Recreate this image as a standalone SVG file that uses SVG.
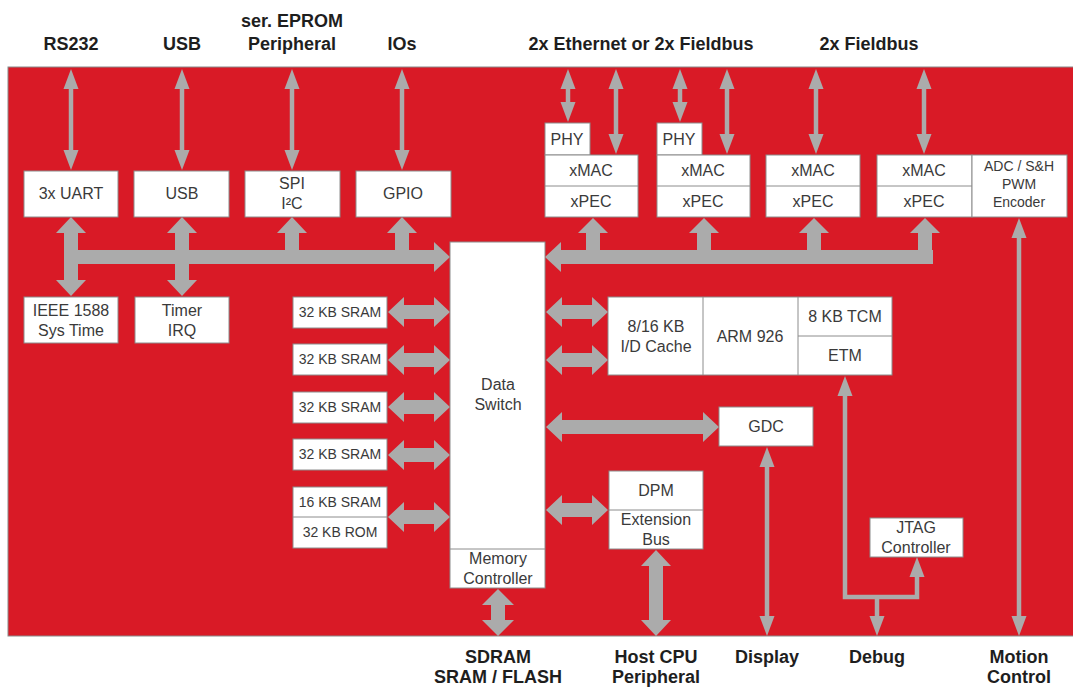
<svg xmlns="http://www.w3.org/2000/svg" width="1073" height="688" viewBox="0 0 1073 688">
<defs>
<style>
.bg{fill:#d91a26;stroke:#8a8a8a;stroke-width:1}
.box{fill:#fff;stroke:#8c8c8c;stroke-width:1}
.t{font-family:"Liberation Sans",Arial,sans-serif;font-size:16px;fill:#3a3a3a;text-anchor:middle}
.xs{font-size:14px}
.lab{font-family:"Liberation Sans",Arial,sans-serif;font-size:18px;font-weight:bold;fill:#1e1e1e;text-anchor:middle}
.thin{stroke:#ababab;stroke-width:4.5;fill:none;marker-start:url(#ah);marker-end:url(#ah)}
.thin1{stroke:#ababab;stroke-width:4.5;fill:none;marker-end:url(#ah)}
.thick{fill:#ababab}
</style>
<marker id="ah" markerUnits="userSpaceOnUse" markerWidth="20" markerHeight="15" viewBox="0 0 20 15" refX="2" refY="7.5" orient="auto-start-reverse" overflow="visible">
<path d="M0,0 L20,7.5 L0,15 z" fill="#ababab"/>
</marker>
</defs>
<rect class="bg" x="8" y="67" width="1075" height="569"/>

<g id="labels">
<text class="lab" x="71" y="50">RS232</text>
<text class="lab" x="182" y="50">USB</text>
<text class="lab" x="292" y="27">ser. EPROM</text>
<text class="lab" x="292" y="50">Peripheral</text>
<text class="lab" x="402" y="50">IOs</text>
<text class="lab" x="641" y="50">2x Ethernet or 2x Fieldbus</text>
<text class="lab" x="869" y="50">2x Fieldbus</text>
<text class="lab" x="498" y="663">SDRAM</text>
<text class="lab" x="498" y="683">SRAM / FLASH</text>
<text class="lab" x="656" y="663">Host CPU</text>
<text class="lab" x="656" y="683">Peripheral</text>
<text class="lab" x="767" y="663">Display</text>
<text class="lab" x="877" y="663">Debug</text>
<text class="lab" x="1019" y="663">Motion</text>
<text class="lab" x="1019" y="683">Control</text>
</g>

<g id="connectors">
<line class="thin" x1="71" y1="87" x2="71" y2="152"/>
<line class="thin" x1="182" y1="87" x2="182" y2="152"/>
<line class="thin" x1="292" y1="87" x2="292" y2="152"/>
<line class="thin" x1="402" y1="87" x2="402" y2="152"/>
<line class="thin" x1="568" y1="87" x2="568" y2="104"/>
<line class="thin" x1="616" y1="87" x2="616" y2="136"/>
<line class="thin" x1="680" y1="87" x2="680" y2="104"/>
<line class="thin" x1="727" y1="87" x2="727" y2="136"/>
<line class="thin" x1="816" y1="87" x2="816" y2="136"/>
<line class="thin" x1="924" y1="87" x2="924" y2="136"/>
<line class="thin" x1="1019" y1="236" x2="1019" y2="618"/>
<line class="thin" x1="767" y1="465" x2="767" y2="618"/>
<polyline class="thin" points="845,394 845,597 917,597 917,575"/>
<polyline class="thin1" points="877,597 877,618"/>

<g class="thick">
<rect x="64" y="250" width="371" height="14"/>
<polygon points="434,242 450,257 434,272"/>
<rect x="64" y="233" width="14" height="47"/>
<polygon points="56,233 71,217 86,233"/>
<polygon points="56,280 71,296 86,280"/>
<rect x="175" y="233" width="14" height="47"/>
<polygon points="167,233 182,217 197,233"/>
<polygon points="167,280 182,296 197,280"/>
<rect x="285" y="233" width="14" height="18"/>
<polygon points="277,233 292,217 307,233"/>
<rect x="395" y="233" width="14" height="18"/>
<polygon points="387,233 402,217 417,233"/>
</g>
<g class="thick">
<rect x="560" y="250" width="373" height="14"/>
<polygon points="561,242 545,257 561,272"/>
<rect x="586" y="233" width="14" height="18"/>
<polygon points="578,233 593,218 608,233"/>
<rect x="697" y="233" width="14" height="18"/>
<polygon points="689,233 704,218 719,233"/>
<rect x="807" y="233" width="14" height="18"/>
<polygon points="799,233 814,218 829,233"/>
<rect x="918" y="233" width="14" height="18"/>
<polygon points="910,233 925,218 940,233"/>
</g>
<g class="thick">
<polygon points="388,312 404,297 404,305 434,305 434,297 450,312 434,327 434,319 404,319 404,327"/>
<polygon points="388,360 404,345 404,353 434,353 434,345 450,360 434,375 434,367 404,367 404,375"/>
<polygon points="388,407 404,392 404,400 434,400 434,392 450,407 434,422 434,414 404,414 404,422"/>
<polygon points="388,455 404,440 404,448 434,448 434,440 450,455 434,470 434,462 404,462 404,470"/>
<polygon points="388,517 404,502 404,510 434,510 434,502 450,517 434,532 434,524 404,524 404,532"/>
<polygon points="546,312 562,297 562,305 592,305 592,297 608,312 592,327 592,319 562,319 562,327"/>
<polygon points="546,360 562,345 562,353 592,353 592,345 608,360 592,375 592,367 562,367 562,375"/>
<polygon points="546,510 562,495 562,503 592,503 592,495 608,510 592,525 592,517 562,517 562,525"/>
<polygon points="546,427 562,412 562,420 703,420 703,412 719,427 703,442 703,434 562,434 562,442"/>
<polygon points="498,589 482,605 491,605 491,620 482,620 498,636 514,620 505,620 505,605 514,605"/>
<polygon points="656,550 641,566 649,566 649,620 641,620 656,636 671,620 663,620 663,566 671,566"/>
</g>
</g>

<g id="uart"><rect class="box" x="24" y="171" width="94" height="46"/><text class="t" x="71" y="199">3x UART</text></g>
<g id="usb"><rect class="box" x="134" y="171" width="95" height="46"/><text class="t" x="182" y="199">USB</text></g>
<g id="spi"><rect class="box" x="245" y="171" width="95" height="46"/><text class="t" x="292" y="189">SPI</text><text class="t" x="292" y="209">I²C</text></g>
<g id="gpio"><rect class="box" x="356" y="171" width="95" height="46"/><text class="t" x="403" y="199">GPIO</text></g>

<g id="ieee"><rect class="box" x="24" y="297" width="94" height="46"/><text class="t" x="71" y="316">IEEE 1588</text><text class="t" x="71" y="336">Sys Time</text></g>
<g id="timer"><rect class="box" x="135" y="297" width="94" height="46"/><text class="t" x="182" y="316">Timer</text><text class="t" x="182" y="336">IRQ</text></g>

<g id="phy1"><rect class="box" x="545" y="123" width="45" height="32"/><text class="t" x="567" y="145">PHY</text></g>
<g id="phy2"><rect class="box" x="657" y="123" width="45" height="32"/><text class="t" x="679" y="145">PHY</text></g>
<g id="xpec1"><rect class="box" x="545" y="155" width="93" height="62"/><line x1="545" y1="186" x2="638" y2="186" stroke="#8c8c8c"/><text class="t" x="591" y="176">xMAC</text><text class="t" x="591" y="207">xPEC</text></g>
<g id="xpec2"><rect class="box" x="657" y="155" width="93" height="62"/><line x1="657" y1="186" x2="750" y2="186" stroke="#8c8c8c"/><text class="t" x="703" y="176">xMAC</text><text class="t" x="703" y="207">xPEC</text></g>
<g id="xpec3"><rect class="box" x="766" y="155" width="94" height="62"/><line x1="766" y1="186" x2="860" y2="186" stroke="#8c8c8c"/><text class="t" x="813" y="176">xMAC</text><text class="t" x="813" y="207">xPEC</text></g>
<g id="xpec4"><rect class="box" x="877" y="155" width="95" height="62"/><line x1="877" y1="186" x2="972" y2="186" stroke="#8c8c8c"/><text class="t" x="924" y="176">xMAC</text><text class="t" x="924" y="207">xPEC</text></g>
<g id="adc"><rect class="box" x="972" y="155" width="95" height="62"/><text class="t xs" x="1019" y="171">ADC / S&amp;H</text><text class="t xs" x="1019" y="189">PWM</text><text class="t xs" x="1019" y="207">Encoder</text></g>

<g id="sram1"><rect class="box" x="293" y="297" width="94" height="31"/><text class="t xs" x="340" y="317">32 KB SRAM</text></g>
<g id="sram2"><rect class="box" x="293" y="344" width="94" height="31"/><text class="t xs" x="340" y="364">32 KB SRAM</text></g>
<g id="sram3"><rect class="box" x="293" y="392" width="94" height="31"/><text class="t xs" x="340" y="412">32 KB SRAM</text></g>
<g id="sram4"><rect class="box" x="293" y="439" width="94" height="31"/><text class="t xs" x="340" y="459">32 KB SRAM</text></g>
<g id="sram5rom"><rect class="box" x="293" y="487" width="94" height="61"/><line x1="293" y1="517" x2="387" y2="517" stroke="#8c8c8c"/><text class="t xs" x="340" y="507">16 KB SRAM</text><text class="t xs" x="340" y="537">32 KB ROM</text></g>

<g id="dataswitch"><rect class="box" x="450" y="242" width="95" height="346"/><line x1="450" y1="549" x2="545" y2="549" stroke="#8c8c8c"/><text class="t" x="498" y="390">Data</text><text class="t" x="498" y="410">Switch</text><text class="t" x="498" y="564">Memory</text><text class="t" x="498" y="584">Controller</text></g>

<g id="cpu"><rect class="box" x="608" y="297" width="284" height="78"/><line x1="703" y1="297" x2="703" y2="375" stroke="#8c8c8c"/><line x1="798" y1="297" x2="798" y2="375" stroke="#8c8c8c"/><line x1="798" y1="336" x2="892" y2="336" stroke="#8c8c8c"/><text class="t" x="656" y="332">8/16 KB</text><text class="t" x="656" y="352">I/D Cache</text><text class="t" x="750" y="342">ARM 926</text><text class="t" x="845" y="322">8 KB TCM</text><text class="t" x="845" y="361">ETM</text></g>

<g id="gdc"><rect class="box" x="719" y="407" width="94" height="39"/><text class="t" x="766" y="432">GDC</text></g>
<g id="dpm"><rect class="box" x="609" y="471" width="94" height="78"/><line x1="609" y1="510" x2="703" y2="510" stroke="#8c8c8c"/><text class="t" x="656" y="496">DPM</text><text class="t" x="656" y="525">Extension</text><text class="t" x="656" y="545">Bus</text></g>
<g id="jtag"><rect class="box" x="870" y="518" width="93" height="39"/><text class="t" x="916" y="533">JTAG</text><text class="t" x="916" y="553">Controller</text></g>
</svg>
